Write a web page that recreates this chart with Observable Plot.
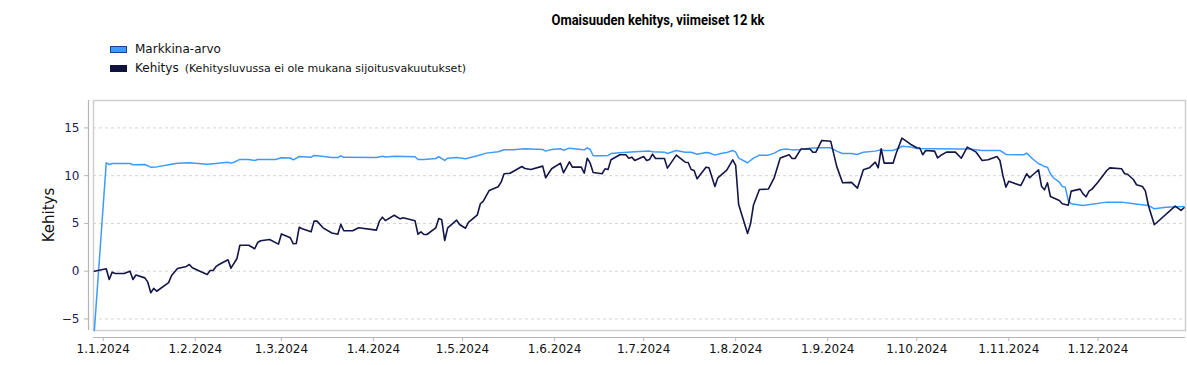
<!DOCTYPE html>
<html><head><meta charset="utf-8">
<script src="https://cdn.jsdelivr.net/npm/d3@7"></script>
<script src="https://cdn.jsdelivr.net/npm/@observablehq/plot@0.6"></script>
<style>
html,body{margin:0;padding:0;background:#fff;}
body{width:1187px;height:365px;overflow:hidden;position:relative;font-family:"DejaVu Sans",sans-serif;}
#title{position:absolute;left:658px;top:12px;white-space:nowrap;font-family:Roboto,"DejaVu Sans",sans-serif;font-weight:bold;font-size:14px;color:#000;transform-origin:0 0;z-index:2;}
.leg{position:absolute;left:110px;font-size:12px;color:#111;white-space:nowrap;display:flex;align-items:center;z-index:2;}
.sw{display:inline-block;width:17px;height:7px;margin-right:8px;box-sizing:border-box;}
#ylab{position:absolute;left:49px;top:215px;font-size:15px;color:#111;white-space:nowrap;transform:translate(-50%,-50%) rotate(-90deg);z-index:3;}
#chart{position:absolute;left:0;top:90px;z-index:1;}
</style></head><body>
<div id="title">Omaisuuden kehitys, viimeiset 12 kk</div>
<div class="leg" id="leg1" style="top:42px"><span class="sw" style="background:#3d9bff;border:1px solid #1a3f9a"></span><span>Markkina-arvo</span></div>
<div class="leg" id="leg2" style="top:61px"><span class="sw" style="background:#10123f"></span><span>Kehitys</span><span style="margin-left:6px;font-size:11px">(Kehitysluvussa ei ole mukana sijoitusvakuutukset)</span></div>
<div id="ylab">Kehitys</div>
<div id="chart"></div>
<script>
const kehitysDates = ["2023-12-29","2024-01-02","2024-01-03","2024-01-04","2024-01-05","2024-01-08","2024-01-10","2024-01-11","2024-01-12","2024-01-15","2024-01-16","2024-01-17","2024-01-18","2024-01-19","2024-01-23","2024-01-24","2024-01-26","2024-01-29","2024-01-30","2024-01-31","2024-02-02","2024-02-05","2024-02-06","2024-02-07","2024-02-08","2024-02-09","2024-02-12","2024-02-13","2024-02-15","2024-02-16","2024-02-19","2024-02-21","2024-02-22","2024-02-23","2024-02-26","2024-02-29","2024-03-01","2024-03-04","2024-03-05","2024-03-06","2024-03-07","2024-03-08","2024-03-11","2024-03-12","2024-03-13","2024-03-15","2024-03-18","2024-03-20","2024-03-21","2024-03-22","2024-03-25","2024-03-27","2024-04-02","2024-04-03","2024-04-04","2024-04-05","2024-04-08","2024-04-10","2024-04-11","2024-04-15","2024-04-16","2024-04-17","2024-04-18","2024-04-19","2024-04-22","2024-04-23","2024-04-24","2024-04-25","2024-04-26","2024-04-29","2024-04-30","2024-05-02","2024-05-03","2024-05-06","2024-05-07","2024-05-08","2024-05-10","2024-05-13","2024-05-14","2024-05-15","2024-05-17","2024-05-21","2024-05-22","2024-05-24","2024-05-28","2024-05-29","2024-05-31","2024-06-03","2024-06-04","2024-06-06","2024-06-07","2024-06-10","2024-06-11","2024-06-12","2024-06-13","2024-06-14","2024-06-17","2024-06-18","2024-06-19","2024-06-20","2024-06-23","2024-06-25","2024-06-26","2024-06-27","2024-06-28","2024-07-01","2024-07-02","2024-07-03","2024-07-04","2024-07-05","2024-07-08","2024-07-09","2024-07-12","2024-07-15","2024-07-16","2024-07-17","2024-07-18","2024-07-19","2024-07-22","2024-07-23","2024-07-25","2024-07-26","2024-07-29","2024-07-31","2024-08-01","2024-08-02","2024-08-05","2024-08-06","2024-08-07","2024-08-09","2024-08-12","2024-08-14","2024-08-16","2024-08-19","2024-08-20","2024-08-21","2024-08-23","2024-08-26","2024-08-27","2024-08-28","2024-08-30","2024-09-02","2024-09-04","2024-09-06","2024-09-09","2024-09-11","2024-09-13","2024-09-15","2024-09-17","2024-09-18","2024-09-19","2024-09-20","2024-09-23","2024-09-24","2024-09-26","2024-09-29","2024-10-01","2024-10-02","2024-10-03","2024-10-04","2024-10-07","2024-10-08","2024-10-09","2024-10-11","2024-10-14","2024-10-16","2024-10-18","2024-10-21","2024-10-23","2024-10-25","2024-10-28","2024-10-29","2024-10-30","2024-10-31","2024-11-01","2024-11-05","2024-11-06","2024-11-07","2024-11-08","2024-11-11","2024-11-12","2024-11-13","2024-11-14","2024-11-15","2024-11-18","2024-11-19","2024-11-21","2024-11-22","2024-11-25","2024-11-26","2024-11-27","2024-11-28","2024-11-29","2024-12-01","2024-12-04","2024-12-05","2024-12-09","2024-12-10","2024-12-11","2024-12-13","2024-12-14","2024-12-16","2024-12-17","2024-12-18","2024-12-20","2024-12-27","2024-12-29","2024-12-30"];
const kehitysValues = [0.0,0.25,-0.87,-0.1,-0.25,-0.25,0.0,-0.87,-0.4,-0.7,-1.15,-2.26,-1.8,-2.1,-1.2,-0.45,0.28,0.5,0.7,0.35,0.07,-0.35,0.07,0.07,0.5,0.7,1.19,0.32,1.3,2.72,2.72,2.35,3.0,3.18,3.32,2.83,3.9,3.5,2.87,2.9,4.6,4.45,4.12,5.24,5.24,4.54,4.0,3.87,4.9,4.23,4.23,4.54,4.3,5.24,5.65,5.3,5.86,5.48,5.59,5.27,3.87,4.12,3.84,3.84,4.54,5.52,5.38,3.21,4.54,5.34,4.89,4.5,5.1,5.9,7.06,7.33,8.45,8.84,9.32,10.2,10.26,10.96,10.75,10.65,11.0,9.78,10.72,11.31,10.3,11.45,10.89,10.89,10.26,11.83,11.31,10.33,10.2,10.72,10.65,11.66,12.19,12.19,11.83,11.94,11.59,12.01,11.59,11.7,12.25,11.8,11.8,10.79,12.15,11.41,11.38,10.65,10.54,9.67,10.89,10.82,8.87,9.78,10.58,11.66,11.07,6.98,3.95,4.96,6.93,8.55,8.6,9.8,11.85,12.19,11.8,11.8,12.8,12.8,12.45,12.46,13.69,13.61,11.0,9.26,9.3,8.69,10.62,10.82,11.41,10.82,12.82,11.31,11.31,12.29,13.93,13.27,12.92,12.9,12.19,12.64,12.57,11.87,12.11,12.46,12.46,11.83,12.99,12.46,11.59,11.66,12.01,11.59,10.02,8.8,9.42,8.97,9.57,10.2,9.78,10.62,8.9,8.52,9.26,7.82,7.4,7.06,6.91,8.38,8.59,8.1,7.79,8.38,8.59,9.32,10.54,10.82,10.72,10.2,10.15,9.57,9.05,8.87,8.38,6.88,4.86,6.81,6.36,6.64];

const markkinaDates = ["2023-12-29","2024-01-02","2024-01-03","2024-01-04","2024-01-10","2024-01-11","2024-01-15","2024-01-17","2024-01-19","2024-01-23","2024-01-26","2024-01-30","2024-02-05","2024-02-07","2024-02-12","2024-02-13","2024-02-14","2024-02-16","2024-02-19","2024-02-21","2024-02-22","2024-02-28","2024-03-01","2024-03-04","2024-03-05","2024-03-07","2024-03-11","2024-03-12","2024-03-14","2024-03-18","2024-03-20","2024-03-21","2024-03-22","2024-04-02","2024-04-04","2024-04-05","2024-04-08","2024-04-15","2024-04-16","2024-04-18","2024-04-22","2024-04-23","2024-04-25","2024-04-26","2024-04-29","2024-05-02","2024-05-06","2024-05-09","2024-05-13","2024-05-15","2024-05-18","2024-05-22","2024-05-28","2024-05-29","2024-05-31","2024-06-03","2024-06-04","2024-06-06","2024-06-10","2024-06-11","2024-06-12","2024-06-13","2024-06-14","2024-06-17","2024-06-19","2024-06-20","2024-06-23","2024-06-28","2024-07-03","2024-07-04","2024-07-08","2024-07-09","2024-07-12","2024-07-15","2024-07-17","2024-07-19","2024-07-22","2024-07-23","2024-07-25","2024-07-27","2024-07-29","2024-07-31","2024-08-01","2024-08-02","2024-08-05","2024-08-07","2024-08-09","2024-08-12","2024-08-14","2024-08-16","2024-08-18","2024-08-20","2024-08-21","2024-08-23","2024-08-26","2024-08-29","2024-09-02","2024-09-04","2024-09-06","2024-09-09","2024-09-11","2024-09-13","2024-09-17","2024-09-19","2024-09-20","2024-09-23","2024-09-25","2024-09-26","2024-09-29","2024-10-01","2024-10-07","2024-10-17","2024-10-18","2024-10-23","2024-10-29","2024-10-31","2024-11-06","2024-11-07","2024-11-09","2024-11-11","2024-11-12","2024-11-13","2024-11-14","2024-11-15","2024-11-16","2024-11-18","2024-11-19","2024-11-20","2024-11-21","2024-11-22","2024-11-26","2024-12-04","2024-12-09","2024-12-13","2024-12-18","2024-12-20","2024-12-24","2024-12-30"];
const markkinaValues = [-6.2,11.35,11.17,11.28,11.28,11.14,11.17,10.89,10.92,11.14,11.31,11.35,11.2,11.26,11.41,11.31,11.41,11.7,11.7,11.59,11.7,11.7,11.87,11.85,11.66,12.01,11.94,12.11,12.05,11.9,11.9,12.08,11.92,11.9,12.04,11.95,12.04,11.98,11.7,11.7,11.8,11.98,11.59,11.83,11.9,11.77,12.08,12.36,12.5,12.71,12.71,12.82,12.74,12.57,12.74,12.82,12.67,12.88,12.74,12.7,12.92,12.74,12.08,12.08,12.12,12.32,12.39,12.5,12.57,12.5,12.46,12.32,12.64,12.46,12.46,12.25,12.43,12.4,12.15,12.32,12.43,12.64,12.46,11.83,11.35,11.83,12.15,12.15,12.36,12.71,12.78,12.7,12.72,12.74,12.88,12.92,12.92,12.57,12.32,12.32,12.22,12.46,12.57,12.71,12.64,12.64,12.88,13.09,12.99,12.85,12.82,12.78,12.82,12.64,12.64,12.22,12.19,12.36,11.77,11.25,11.14,10.95,10.89,10.2,9.78,9.32,8.87,8.8,7.4,7.06,6.88,7.23,7.23,7.06,6.88,6.53,6.7,6.77];

const yTicks = [-5, 0, 5, 10, 15];
const yDomain = [-6.21, 17.87];
const xDomain = ["2023-12-28T17:00:00Z", "2024-12-30T12:00:00Z"];
const xTickDates = ["2024-01-01","2024-02-01","2024-03-01","2024-04-01","2024-05-01","2024-06-01","2024-07-01","2024-08-01","2024-09-01","2024-10-01","2024-11-01","2024-12-01"];
const xTickLabels = ["1.1.2024","1.2.2024","1.3.2024","1.4.2024","1.5.2024","1.6.2024","1.7.2024","1.8.2024","1.9.2024","1.10.2024","1.11.2024","1.12.2024"];

const parse = d3.utcParse("%Y-%m-%d");
const kehitys = kehitysDates.map((d, i) => ({date: parse(d), value: kehitysValues[i]}));
const markkina = markkinaDates.map((d, i) => ({date: parse(d), value: markkinaValues[i]}));
const xTicks = xTickDates.map(parse);
const xDom = xDomain.map(d => new Date(d));

const chart = Plot.plot({
  width: 1187,
  height: 275,
  marginTop: 10,
  marginBottom: 35,
  marginLeft: 93,
  marginRight: 2,
  x: {type: "utc", domain: xDom},
  y: {domain: yDomain},
  style: {fontFamily: "DejaVu Sans", fontSize: "12px", color: "#1c1d4f", background: "transparent", overflow: "visible"},
  marks: [
    Plot.gridY(yTicks, {stroke: "#d4d4d4", strokeOpacity: 1, strokeDasharray: "3,3"}),
    Plot.frame({stroke: "#cfcfcf", strokeWidth: 1.5}),
    Plot.ruleX([xDom[0]], {dx: -5, stroke: "#b5b5b5", strokeWidth: 1.2}),
    Plot.ruleY([yDomain[0]], {dy: 7, stroke: "#b5b5b5", strokeWidth: 1.2}),
    Plot.lineY(markkina, {x: "date", y: "value", stroke: "#3d9bff", strokeWidth: 1.5}),
    Plot.lineY(kehitys, {x: "date", y: "value", stroke: "#141548", strokeWidth: 1.6}),
    Plot.axisY(yTicks, {anchor: "left", dx: -5, tickSize: 4, tickPadding: 5, stroke: "#b5b5b5", fill: "#1c1d4f", label: null, fontSize: 12}),
    Plot.axisX(xTicks, {anchor: "bottom", dy: 7, tickSize: 4, tickPadding: 3, stroke: "#b5b5b5", fill: "#111", label: null, fontSize: 12,
      tickFormat: (d) => xTickLabels[xTicks.findIndex(t => +t === +d)]})
  ]
});
document.getElementById("chart").appendChild(chart);

const t = document.getElementById("title");
const w = t.getBoundingClientRect().width;
const k = 213 / w;
t.style.transform = `translateX(${-106.5}px) scaleX(${k})`;
</script>
</body></html>
